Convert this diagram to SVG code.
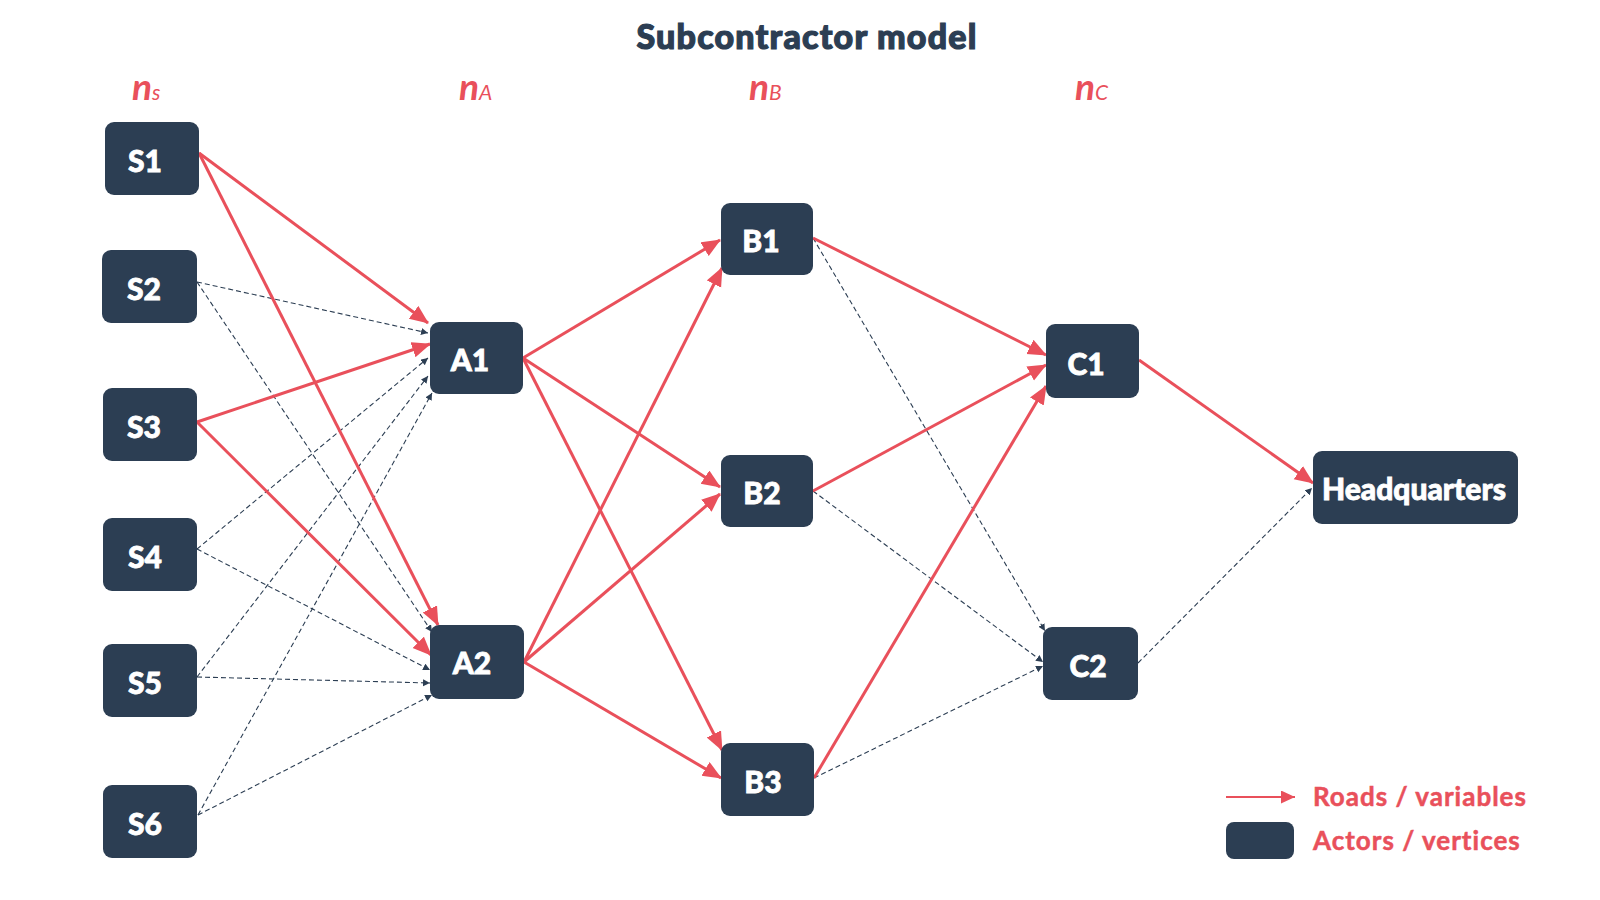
<svg xmlns="http://www.w3.org/2000/svg" width="1600" height="900" viewBox="0 0 1600 900">
<defs>
<style>
.node{fill:#2C3E53;}
.lbl{fill:#FFFFFF;stroke:#FFFFFF;stroke-width:0.8;font-family:Lato,"Liberation Sans",sans-serif;font-weight:900;font-size:30px;text-anchor:middle;}
.red{stroke:#E9505B;stroke-width:3;fill:none;marker-end:url(#ar);}
.dash{stroke:#2C3E53;stroke-width:1.1;fill:none;stroke-dasharray:5 3;marker-end:url(#ad);}
.col{fill:#E9505B;font-family:Lato,"Liberation Sans",sans-serif;font-weight:700;font-style:italic;font-size:37px;}
.sub{font-size:21px;font-weight:400;}
.leg{fill:#E9505B;stroke:#E9505B;stroke-width:0.5;font-family:Lato,"Liberation Sans",sans-serif;font-weight:700;font-size:26px;letter-spacing:1px;}
</style>
<marker id="ar" markerUnits="userSpaceOnUse" markerWidth="20" markerHeight="18" refX="18" refY="8" orient="auto">
<path d="M0,0 L19,8 L0,16 z" fill="#E9505B"/>
</marker>
<marker id="ad" markerUnits="userSpaceOnUse" markerWidth="8" markerHeight="8" refX="7" refY="3.5" orient="auto">
<path d="M0,0 L7,3.5 L0,7 z" fill="#2C3E53"/>
</marker>
<marker id="al" markerUnits="userSpaceOnUse" markerWidth="16" markerHeight="16" refX="14" refY="6.5" orient="auto">
<path d="M0,0 L14,6.5 L0,13 z" fill="#E9505B"/>
</marker>
</defs>
<rect width="1600" height="900" fill="#FFFFFF"/>
<text x="807" y="49" fill="#2C3E53" stroke="#2C3E53" stroke-width="1.2" font-family="Lato,'Liberation Sans',sans-serif" font-weight="900" font-size="34" letter-spacing="1.2" text-anchor="middle">Subcontractor model</text>
<text class="col" x="132" y="100">n<tspan class="sub">s</tspan></text>
<text class="col" x="459" y="100">n<tspan class="sub">A</tspan></text>
<text class="col" x="749" y="100">n<tspan class="sub">B</tspan></text>
<text class="col" x="1075" y="100">n<tspan class="sub">C</tspan></text>
<g id="connectors">
<path class="dash" d="M197,282 L428,333"/>
<path class="dash" d="M197,282 L432,632"/>
<path class="dash" d="M197,549 L428,358"/>
<path class="dash" d="M197,549 L430,670"/>
<path class="dash" d="M197,677 L428,376"/>
<path class="dash" d="M197,677 L430,683"/>
<path class="dash" d="M198,815 L432,393"/>
<path class="dash" d="M198,815 L432,695"/>
<path class="dash" d="M813,238 L1045,631"/>
<path class="dash" d="M813,491 L1043,662"/>
<path class="dash" d="M814,778 L1043,666"/>
<path class="dash" d="M1138,663 L1312,488"/>
<path class="red" d="M199,153 L428,323"/>
<path class="red" d="M199,153 L438,625"/>
<path class="red" d="M197,422 L430,344"/>
<path class="red" d="M197,422 L431,655"/>
<path class="red" d="M523,358 L720,240"/>
<path class="red" d="M523,358 L720,487"/>
<path class="red" d="M523,358 L722,750"/>
<path class="red" d="M524,662 L722,268"/>
<path class="red" d="M524,662 L720,494"/>
<path class="red" d="M524,662 L721,778"/>
<path class="red" d="M813,238 L1046,355"/>
<path class="red" d="M813,491 L1046,365"/>
<path class="red" d="M814,778 L1046,386"/>
<path class="red" d="M1139,360 L1313,483"/>
</g>
<g id="S1"><rect class="node" x="105" y="122" width="94" height="73" rx="9"/><text class="lbl" x="145" y="172">S1</text></g>
<g id="S2"><rect class="node" x="102" y="250" width="95" height="73" rx="9"/><text class="lbl" x="144" y="300">S2</text></g>
<g id="S3"><rect class="node" x="103" y="388" width="94" height="73" rx="9"/><text class="lbl" x="144" y="438">S3</text></g>
<g id="S4"><rect class="node" x="103" y="518" width="94" height="73" rx="9"/><text class="lbl" x="145" y="568">S4</text></g>
<g id="S5"><rect class="node" x="103" y="644" width="94" height="73" rx="9"/><text class="lbl" x="145" y="694">S5</text></g>
<g id="S6"><rect class="node" x="103" y="785" width="94" height="73" rx="9"/><text class="lbl" x="145" y="835">S6</text></g>
<g id="A1"><rect class="node" x="430" y="322" width="93" height="72" rx="9"/><text class="lbl" x="470" y="371">A1</text></g>
<g id="A2"><rect class="node" x="430" y="625" width="94" height="74" rx="9"/><text class="lbl" x="472" y="674">A2</text></g>
<g id="B1"><rect class="node" x="721" y="203" width="92" height="72" rx="9"/><text class="lbl" x="761" y="252">B1</text></g>
<g id="B2"><rect class="node" x="721" y="455" width="92" height="72" rx="9"/><text class="lbl" x="762" y="504">B2</text></g>
<g id="B3"><rect class="node" x="721" y="743" width="93" height="73" rx="9"/><text class="lbl" x="763" y="793">B3</text></g>
<g id="C1"><rect class="node" x="1046" y="324" width="93" height="74" rx="9"/><text class="lbl" x="1086" y="375">C1</text></g>
<g id="C2"><rect class="node" x="1043" y="627" width="95" height="73" rx="9"/><text class="lbl" x="1088" y="677">C2</text></g>
<g id="HQ"><rect class="node" x="1313" y="451" width="205" height="73" rx="9"/><text class="lbl" x="1414" y="500">Headquarters</text></g>
<g id="legend">
<path d="M1226,797 L1295,797" stroke="#E9505B" stroke-width="1.8" fill="none" marker-end="url(#al)"/>
<text class="leg" x="1313" y="806">Roads / variables</text>
<rect class="node" x="1226" y="822" width="68" height="37" rx="8"/>
<text class="leg" x="1313" y="850">Actors / vertices</text>
</g>
</svg>
